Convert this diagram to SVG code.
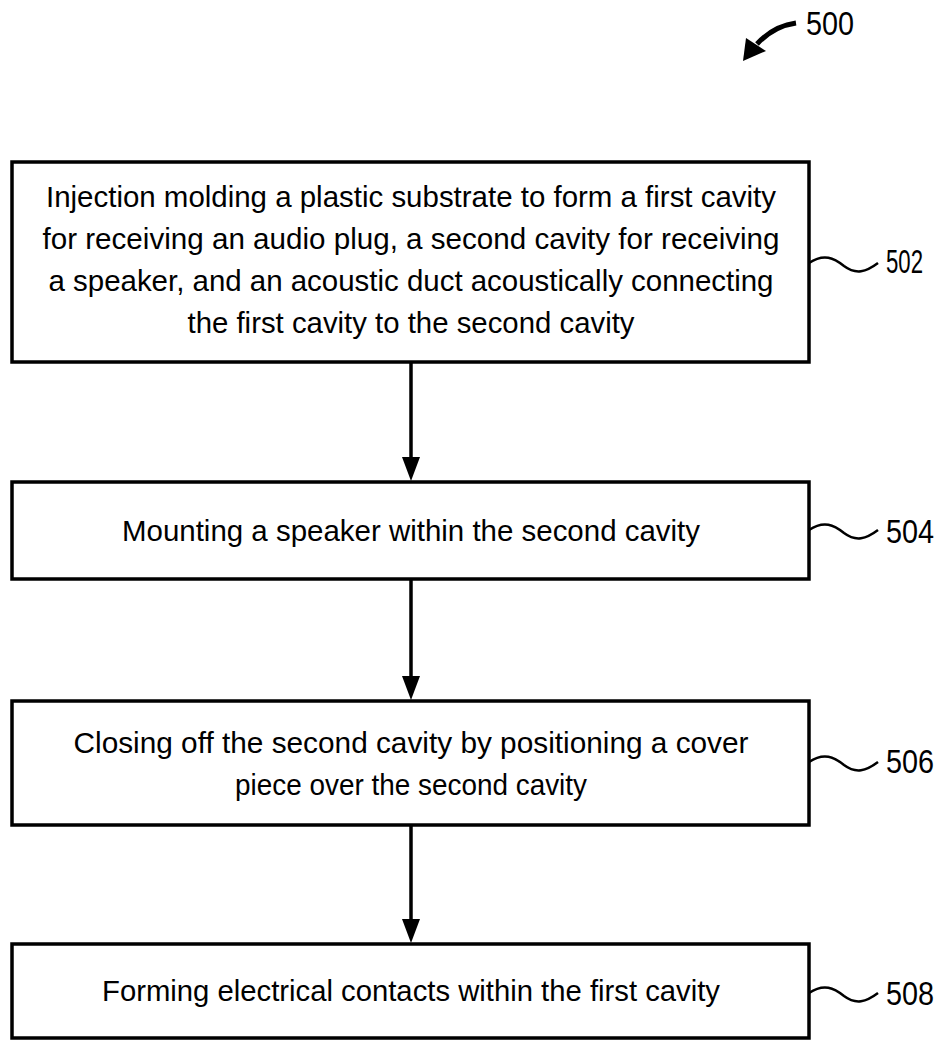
<svg xmlns="http://www.w3.org/2000/svg" width="940" height="1041" viewBox="0 0 940 1041">
<style>
.box{fill:#fff;stroke:#000;stroke-width:3.5}
.t{font-family:"Liberation Sans Narrow","Liberation Sans",Arial,sans-serif;font-size:29px;fill:#000;text-anchor:middle}
.lbl{font-family:"Liberation Sans Narrow","Liberation Sans",Arial,sans-serif;font-size:33px;fill:#000}
.sq{fill:none;stroke:#000;stroke-width:2.5}
.ln{stroke:#000;stroke-width:3.5}
</style>
<rect width="940" height="1041" fill="#fff"/>
<g id="ref500">
<path d="M796,23 C782,25 768,32 757,44" fill="none" stroke="#000" stroke-width="5"/>
<polygon points="743,61 746,38 766,51"/>
<text class="lbl" x="806" y="35" textLength="48" lengthAdjust="spacingAndGlyphs">500</text>
</g>
<g id="n502">
<rect class="box" x="12" y="162" width="797" height="200"/>
<text class="t" x="411" y="207" textLength="730" lengthAdjust="spacingAndGlyphs">Injection molding a plastic substrate to form a first cavity</text>
<text class="t" x="411" y="249" textLength="737" lengthAdjust="spacingAndGlyphs">for receiving an audio plug, a second cavity for receiving</text>
<text class="t" x="411" y="291" textLength="725" lengthAdjust="spacingAndGlyphs">a speaker, and an acoustic duct acoustically connecting</text>
<text class="t" x="411" y="333" textLength="447" lengthAdjust="spacingAndGlyphs">the first cavity to the second cavity</text>
<path class="sq" d="M809,263 c15,-10 25,-5 35,3 c12,9 22,6 34,-3"/>
<text class="lbl" x="886" y="273" textLength="37" lengthAdjust="spacingAndGlyphs">502</text>
</g>
<g id="n504">
<rect class="box" x="12" y="482" width="797" height="97"/>
<text class="t" x="411" y="541" textLength="578" lengthAdjust="spacingAndGlyphs">Mounting a speaker within the second cavity</text>
<path class="sq" d="M809,530 c15,-10 25,-5 35,3 c12,9 22,6 34,-3"/>
<text class="lbl" x="886" y="543" textLength="48" lengthAdjust="spacingAndGlyphs">504</text>
</g>
<g id="n506">
<rect class="box" x="12" y="701" width="797" height="124"/>
<text class="t" x="411" y="753" textLength="675" lengthAdjust="spacingAndGlyphs">Closing off the second cavity by positioning a cover</text>
<text class="t" x="411" y="795" textLength="352" lengthAdjust="spacingAndGlyphs">piece over the second cavity</text>
<path class="sq" d="M809,762 c15,-10 25,-5 35,3 c12,9 22,6 34,-3"/>
<text class="lbl" x="886" y="773" textLength="48" lengthAdjust="spacingAndGlyphs">506</text>
</g>
<g id="n508">
<rect class="box" x="12" y="944" width="797" height="94"/>
<text class="t" x="411" y="1001" textLength="618" lengthAdjust="spacingAndGlyphs">Forming electrical contacts within the first cavity</text>
<path class="sq" d="M809,993 c15,-10 25,-5 35,3 c12,9 22,6 34,-3"/>
<text class="lbl" x="886" y="1005" textLength="48" lengthAdjust="spacingAndGlyphs">508</text>
</g>
<g id="connectors">
<line class="ln" x1="411" y1="362" x2="411" y2="460"/>
<polygon points="402,457 420,457 411,481"/>
<line class="ln" x1="411" y1="579" x2="411" y2="680"/>
<polygon points="402,676 420,676 411,700"/>
<line class="ln" x1="411" y1="825" x2="411" y2="922"/>
<polygon points="402,919 420,919 411,943"/>
</g>
</svg>
